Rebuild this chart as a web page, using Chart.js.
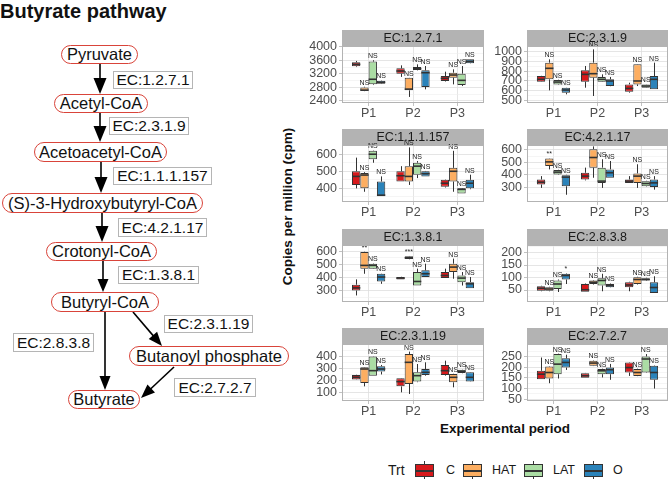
<!DOCTYPE html>
<html><head><meta charset="utf-8">
<script src="https://cdn.jsdelivr.net/npm/chart.js@4.4.1/dist/chart.umd.min.js"></script>
<style>
html,body{margin:0;padding:0;background:#fff;}
#root{position:relative;width:669px;height:479px;overflow:hidden;font-family:'Liberation Sans',Arial,sans-serif;color:#111;}
.node{position:absolute;box-sizing:border-box;border:1px solid #d9443a;border-radius:10px;background:#fff;display:flex;align-items:center;justify-content:center;font-size:16.5px;white-space:nowrap;}
.ec{position:absolute;box-sizing:border-box;border:1px solid #b5b5b5;background:#fff;display:flex;align-items:center;justify-content:center;font-size:15.5px;white-space:nowrap;}
canvas{position:absolute;}
.txt{position:absolute;white-space:nowrap;}
</style></head><body><div id="root">
<div class="txt" style="left:0;top:0;font-weight:bold;font-size:20px;">Butyrate pathway</div>
<svg id="arrows" width="669" height="479" style="position:absolute;left:0;top:0"></svg>
<div class="node" style="left:61px;top:45px;width:77px;height:19px;">Pyruvate</div>
<div class="node" style="left:54px;top:94px;width:94px;height:19px;">Acetyl-CoA</div>
<div class="node" style="left:34px;top:142px;width:133px;height:20px;">Acetoacetyl-CoA</div>
<div class="node" style="left:2px;top:193px;width:201px;height:20px;">(S)-3-Hydroxybutyryl-CoA</div>
<div class="node" style="left:46px;top:242px;width:111px;height:19px;">Crotonyl-CoA</div>
<div class="node" style="left:51px;top:292px;width:108px;height:20px;">Butyryl-CoA</div>
<div class="node" style="left:129px;top:346px;width:160px;height:20px;">Butanoyl phosphate</div>
<div class="node" style="left:68px;top:390px;width:72px;height:19px;">Butyrate</div>
<div class="ec" style="left:113px;top:71px;width:80px;height:18px;">EC:1.2.7.1</div>
<div class="ec" style="left:109px;top:117px;width:80px;height:18px;">EC:2.3.1.9</div>
<div class="ec" style="left:113px;top:167px;width:99px;height:18px;">EC:1.1.1.157</div>
<div class="ec" style="left:118px;top:218px;width:89px;height:19px;">EC:4.2.1.17</div>
<div class="ec" style="left:118px;top:266px;width:81px;height:18px;">EC:1.3.8.1</div>
<div class="ec" style="left:164px;top:315px;width:89px;height:18px;">EC:2.3.1.19</div>
<div class="ec" style="left:13px;top:333px;width:81px;height:19px;">EC:2.8.3.8</div>
<div class="ec" style="left:174px;top:378px;width:82px;height:19px;">EC:2.7.2.7</div>

<div class="txt" style="left:137px;top:199px;width:300px;text-align:center;font-weight:bold;font-size:13.5px;transform:rotate(-90deg);">Copies per million (cpm)</div>
<div class="txt" style="left:405px;top:421px;width:200px;text-align:center;font-weight:bold;font-size:13.5px;">Experimental period</div>
<div id="legend"></div>
</div>
<script>
// ---------- data ----------
const periods = ['P1', 'P2', 'P3'];
const treatments = ['C', 'HAT', 'LAT', 'O'];
const trtColors = ['#D7191C', '#FDAE61', '#ABDDA4', '#2B83BA'];
const enzymes = ['EC:1.2.7.1', 'EC:2.3.1.9', 'EC:1.1.1.157', 'EC:4.2.1.17',
                 'EC:1.3.8.1', 'EC:2.8.3.8', 'EC:2.3.1.19', 'EC:2.7.2.7'];

// five-number summaries [min, q1, median, q3, max] for P1, P2, P3
const ec1271_C   = [[3400,3420,3480,3540,3580],[3110,3205,3283,3362,3450],[2975,2990,3067,3136,3264]];
const ec1271_HAT = [[2690,2700,2720,2800,2820],[2520,2714,2750,3087,3090],[2890,3087,3165,3234,3332]];
const ec1271_LAT = [[2870,2890,3040,3560,3600],[3300,3310,3350,3400,3480],[2840,2870,3008,3205,3430]];
const ec1271_O   = [[2900,2910,2950,3000,3010],[2743,2812,3234,3303,3430],[3500,3509,3568,3627,3630]];

const ec2319_C   = [[690,692,716,750,752],[630,692,767,808,853],[579,589,623,664,681]];
const ec2319_HAT = [[603,716,829,887,921],[545,733,774,887,1024],[647,664,699,870,872]];
const ec2319_LAT = [[660,664,688,709,712],[690,692,716,740,767],[628,630,647,664,666]];
const ec2319_O   = [[562,579,606,630,632],[645,647,699,716,740],[613,613,716,750,887]];

const ec111157_C   = [[400,420,470,500,580],[440,440,474,500,530],[405,410,430,450,452]];
const ec111157_HAT = [[380,400,478,490,495],[420,440,470,530,640],[380,440,500,520,620]];
const ec111157_LAT = [[550,570,600,620,622],[460,480,530,550,560],[370,370,394,400,402]];
const ec111157_O   = [[354,354,360,440,470],[470,470,486,500,502],[395,400,430,450,480]];

const ec42117_C   = [[295,322,340,362,389],[355,362,389,416,457],[335,335,349,362,389]];
const ec42117_HAT = [[443,470,503,530,532],[376,457,538,605,627],[295,335,389,411,484]];
const ec42117_LAT = [[400,403,421,438,440],[295,335,349,457,524],[305,308,330,349,352]];
const ec42117_O   = [[240,308,381,397,400],[376,376,416,443,510],[281,303,335,362,389]];

const ec1381_C   = [[262,300,320,344,385],[385,385,395,403,405],[395,395,415,441,467]];
const ec1381_HAT = [[428,467,492,595,597],[538,540,550,562,564],[390,441,479,505,544]];
const ec1381_LAT = [[465,467,492,505,508],[338,338,369,441,467],[338,364,395,415,441]];
const ec1381_O   = [[351,369,403,428,430],[403,403,428,454,505],[318,318,351,364,403]];

const ec2838_C   = [[45,47,57,65,67],[43,43,51,74,76],[45,61,70,81,83]];
const ec2838_HAT = [[45,47,54,61,63],[72,74,81,88,90],[72,74,92,101,103]];
const ec2838_LAT = [[42,54,74,88,92],[45,68,88,97,115],[86,88,92,97,99]];
const ec2838_O   = [[74,92,108,115,117],[60,61,68,74,76],[38,38,60,81,105]];

const ec23119_C   = [[205,207,226,246,248],[100,150,190,218,220],[240,246,282,330,366]];
const ec23119_HAT = [[150,178,296,310,312],[86,170,352,422,442],[142,184,226,254,256]];
const ec23119_LAT = [[240,240,282,400,402],[185,190,240,268,338],[260,262,277,290,292]];
const ec23119_O   = [[250,274,296,319,330],[240,246,268,296,352],[188,190,226,268,270]];

const ec2727_C   = [[144,144,167,183,245],[151,151,160,172,173],[159,175,198,222,224]];
const ec2727_HAT = [[125,147,175,203,205],[205,206,219,230,232],[158,159,175,191,193]];
const ec2727_LAT = [[147,167,214,261,263],[152,167,183,191,193],[173,175,238,250,261]];
const ec2727_O   = [[187,198,222,241,258],[141,167,188,198,215],[100,141,175,206,208]];

// significance labels per period, in treatment order (C is the reference)
const ec1271_sig   = [['','NS','NS','NS'],['','NS','NS','NS'],['','NS','NS','NS']];
const ec2319_sig   = [['','NS','NS','NS'],['','NS','NS','NS'],['','NS','NS','NS']];
const ec111157_sig = [['','NS','NS','NS'],['','NS','NS','NS'],['','NS','NS','NS']];
const ec42117_sig  = [['','**','NS','NS'],['','*','NS','NS'],['','NS','NS','NS']];
const ec1381_sig   = [['','**','NS','NS'],['','***','NS','NS'],['','NS','NS','NS']];
const ec2838_sig   = [['','NS','NS','*'],['','NS','NS','NS'],['','NS','NS','NS']];
const ec23119_sig  = [['','NS','NS','NS'],['','NS','NS','NS'],['','NS','NS','NS']];
const ec2727_sig   = [['','NS','NS','NS'],['','NS','NS','NS'],['','NS','NS','NS']];

// y tick labels and visible y ranges
const ec1271_yTicks = [2400, 2800, 3200, 3600, 4000];   const ec1271_yRange = [2341, 4020];
const ec2319_yTicks = [500, 600, 700, 800, 900, 1000];  const ec2319_yRange = [473, 1058];
const ec111157_yTicks = [400, 500, 600];                const ec111157_yRange = [320, 654];
const ec42117_yTicks = [300, 400, 500, 600];            const ec42117_yRange = [182, 638];
const ec1381_yTicks = [300, 400, 500, 600];             const ec1381_yRange = [212, 648];
const ec2838_yTicks = [50, 100, 150, 200];              const ec2838_yRange = [2, 230];
const ec23119_yTicks = [100, 200, 300, 400];            const ec23119_yRange = [27, 506];
const ec2727_yTicks = [50, 100, 150, 200, 250];         const ec2727_yRange = [42, 308];

// ---------- assembly ----------
const panelStats = [
  [ec1271_C, ec1271_HAT, ec1271_LAT, ec1271_O],
  [ec2319_C, ec2319_HAT, ec2319_LAT, ec2319_O],
  [ec111157_C, ec111157_HAT, ec111157_LAT, ec111157_O],
  [ec42117_C, ec42117_HAT, ec42117_LAT, ec42117_O],
  [ec1381_C, ec1381_HAT, ec1381_LAT, ec1381_O],
  [ec2838_C, ec2838_HAT, ec2838_LAT, ec2838_O],
  [ec23119_C, ec23119_HAT, ec23119_LAT, ec23119_O],
  [ec2727_C, ec2727_HAT, ec2727_LAT, ec2727_O]
];
const panelSig = [ec1271_sig, ec2319_sig, ec111157_sig, ec42117_sig, ec1381_sig, ec2838_sig, ec23119_sig, ec2727_sig];
const panelTicks = [ec1271_yTicks, ec2319_yTicks, ec111157_yTicks, ec42117_yTicks, ec1381_yTicks, ec2838_yTicks, ec23119_yTicks, ec2727_yTicks];
const panelRange = [ec1271_yRange, ec2319_yRange, ec111157_yRange, ec42117_yRange, ec1381_yRange, ec2838_yRange, ec23119_yRange, ec2727_yRange];

// layout
const FONT = "'Liberation Sans', Arial, sans-serif";
Chart.defaults.font.family = FONT;
const colPlotLeft = [342, 527];
const colPlotW = [142, 141];
const rowPlotTop = [46, 145, 245, 344];
const STRIP_H = 16, PLOT_H = 57, XAXIS_H = 20, YAXIS_W = 40;

const stripPlugin = {
  id: 'strip',
  beforeDraw(chart, args, opts) {
    const ctx = chart.ctx, a = chart.chartArea;
    ctx.save();
    ctx.fillStyle = '#b3b3b3';
    ctx.fillRect(a.left, a.top - opts.h, a.right - a.left, opts.h);
    ctx.fillStyle = '#1a1a1a';
    ctx.font = '12.5px ' + FONT;
    ctx.textAlign = 'center';
    ctx.textBaseline = 'middle';
    ctx.fillText(opts.text, (a.left + a.right) / 2, a.top - opts.h / 2 + 0.5);
    ctx.restore();
  },
  afterDraw(chart) {
    const ctx = chart.ctx, a = chart.chartArea;
    ctx.save();
    ctx.strokeStyle = '#b3b3b3';
    ctx.lineWidth = 1;
    ctx.strokeRect(a.left + 0.5, a.top + 0.5, a.right - a.left - 1, a.bottom - a.top - 1);
    ctx.restore();
  }
};

const boxPlugin = {
  id: 'boxExtras',
  afterDatasetsDraw(chart) {
    const ctx = chart.ctx, ys = chart.scales.y;
    chart.data.datasets.forEach((ds, d) => {
      const meta = chart.getDatasetMeta(d);
      meta.data.forEach((el, i) => {
        const s = ds.stats[i];
        const x = Math.round(el.x) + 0.5, w = el.width;
        ctx.save();
        ctx.strokeStyle = '#333333';
        ctx.lineWidth = 1;
        ctx.beginPath();
        ctx.moveTo(x, ys.getPixelForValue(s[4])); ctx.lineTo(x, ys.getPixelForValue(s[3]));
        ctx.moveTo(x, ys.getPixelForValue(s[1])); ctx.lineTo(x, ys.getPixelForValue(s[0]));
        ctx.stroke();
        const ym = ys.getPixelForValue(s[2]);
        ctx.lineWidth = 1.6;
        ctx.beginPath();
        ctx.moveTo(el.x - w / 2, ym); ctx.lineTo(el.x + w / 2, ym);
        ctx.stroke();
        if (ds.sig[i]) {
          ctx.fillStyle = '#222';
          ctx.font = '7px ' + FONT;
          ctx.textAlign = 'center';
          ctx.textBaseline = 'bottom';
          ctx.fillText(ds.sig[i], el.x, ys.getPixelForValue(s[4]) - 0.5);
        }
        ctx.restore();
      });
    });
  }
};

const root = document.getElementById('root');
enzymes.forEach((name, p) => {
  const col = p % 2, row = Math.floor(p / 2);
  const cv = document.createElement('canvas');
  const W = YAXIS_W + colPlotW[col], H = STRIP_H + PLOT_H + XAXIS_H;
  cv.width = W; cv.height = H;
  cv.style.left = (colPlotLeft[col] - YAXIS_W) + 'px';
  cv.style.top = (rowPlotTop[row] - STRIP_H) + 'px';
  cv.style.width = W + 'px'; cv.style.height = H + 'px';
  root.appendChild(cv);

  const yt = panelTicks[p], yr = panelRange[p];
  const datasets = treatments.map((t, k) => ({
    label: t,
    data: periods.map((per, i) => ({ x: i + 1, y: [panelStats[p][k][i][1], panelStats[p][k][i][3]] })),
    stats: panelStats[p][k],
    sig: panelSig[p].map(r => r[k]),
    backgroundColor: trtColors[k],
    borderColor: '#333333',
    borderWidth: 1,
    borderSkipped: false,
    categoryPercentage: 0.75,
    barPercentage: 1.0
  }));

  new Chart(cv, {
    type: 'bar',
    data: { datasets },
    plugins: [stripPlugin, boxPlugin],
    options: {
      responsive: false, animation: false, devicePixelRatio: 1,
      layout: { padding: { top: STRIP_H, left: 0, right: 0, bottom: 0 } },
      plugins: { legend: { display: false }, tooltip: { enabled: false }, strip: { text: name, h: STRIP_H } },
      scales: {
        x: {
          type: 'linear', min: 0.4, max: 3.6, offset: false,
          grid: { offset: false, color: '#dedede', lineWidth: 0.8, tickLength: 3, tickColor: '#b3b3b3' },
          border: { display: false },
          afterBuildTicks: s => { s.ticks = periods.map((per, i) => ({ value: i + 1 })); },
          afterFit: s => { s.height = XAXIS_H; s.paddingLeft = 0; s.paddingRight = 0; },
          ticks: { autoSkip: false, maxRotation: 0, padding: 0, color: '#4d4d4d', font: { size: 12.5 },
                   callback: (v, i) => periods[i] }
        },
        y: {
          type: 'linear', min: yr[0], max: yr[1], bounds: 'data', beginAtZero: false,
          grid: {
            color: c => (c.tick && c.tick.isMinor) ? '#efefef' : '#dedede',
            lineWidth: c => (c.tick && c.tick.isMinor) ? 0.6 : 0.8,
            tickLength: 3,
            tickColor: c => (c.tick && c.tick.isMinor) ? 'rgba(0,0,0,0)' : '#b3b3b3'
          },
          border: { display: false },
          afterBuildTicks: s => {
            const step = yt[1] - yt[0];
            const all = [];
            yt.forEach(v => all.push({ value: v }));
            const mids = [yt[0] - step / 2].concat(yt.map(v => v + step / 2));
            mids.forEach(v => { if (v > yr[0] && v < yr[1]) all.push({ value: v, isMinor: true }); });
            all.sort((a, b) => a.value - b.value);
            s.ticks = all;
          },
          afterFit: s => { s.width = YAXIS_W; s.paddingTop = 0; s.paddingBottom = 0; },
          ticks: { autoSkip: false, padding: 2, color: '#4d4d4d', font: { size: 12.5 },
                   callback: (v, i, ticks) => ticks[i].isMinor ? '' : String(v) }
        }
      }
    }
  });
});

// ---------- pathway arrows ----------
const svg = document.getElementById('arrows');
function arrow(x1, y1, x2, y2, L, Wd) {
  const dx = x2 - x1, dy = y2 - y1, len = Math.hypot(dx, dy);
  const ux = dx / len, uy = dy / len;
  const bx = x2 - ux * L, by = y2 - uy * L;
  const px = -uy * Wd / 2, py = ux * Wd / 2;
  const line = document.createElementNS('http://www.w3.org/2000/svg', 'line');
  line.setAttribute('x1', x1); line.setAttribute('y1', y1);
  line.setAttribute('x2', bx + ux * 2); line.setAttribute('y2', by + uy * 2);
  line.setAttribute('stroke', '#000'); line.setAttribute('stroke-width', '1.6');
  svg.appendChild(line);
  const poly = document.createElementNS('http://www.w3.org/2000/svg', 'polygon');
  poly.setAttribute('points', `${x2},${y2} ${bx + px},${by + py} ${bx - px},${by - py}`);
  poly.setAttribute('fill', '#000');
  svg.appendChild(poly);
}
arrow(100, 64, 100, 94, 16, 13);
arrow(100, 113, 100, 142, 16, 13);
arrow(101, 162, 101, 193, 16, 13);
arrow(102, 213, 102, 242, 16, 13);
arrow(103, 261, 103, 292, 13, 11);
arrow(105, 312, 105, 390, 14, 11);
arrow(133, 312, 162, 346, 14, 11);
arrow(174, 367, 141, 398, 14, 11);

// ---------- legend ----------
const lg = document.getElementById('legend');
const keyLeft = [415, 463, 524, 584];
const labLeft = [446, 492, 553, 613];
let html = '<div class="txt" style="left:388px;top:462px;font-size:14px;color:#1a1a1a;">Trt</div>';
treatments.forEach((t, k) => {
  const L = keyLeft[k];
  html += `<div style="position:absolute;left:${L + 9}px;top:461px;width:1px;height:19px;background:#333;"></div>`;
  html += `<div style="position:absolute;box-sizing:border-box;left:${L}px;top:464px;width:19px;height:13px;background:${trtColors[k]};border:1px solid #333;"></div>`;
  html += `<div style="position:absolute;left:${L}px;top:470px;width:19px;height:1.5px;background:#333;"></div>`;
  html += `<div class="txt" style="left:${labLeft[k]}px;top:463px;font-size:12.5px;color:#1a1a1a;">${t}</div>`;
});
lg.innerHTML = html;
</script>
</body></html>
